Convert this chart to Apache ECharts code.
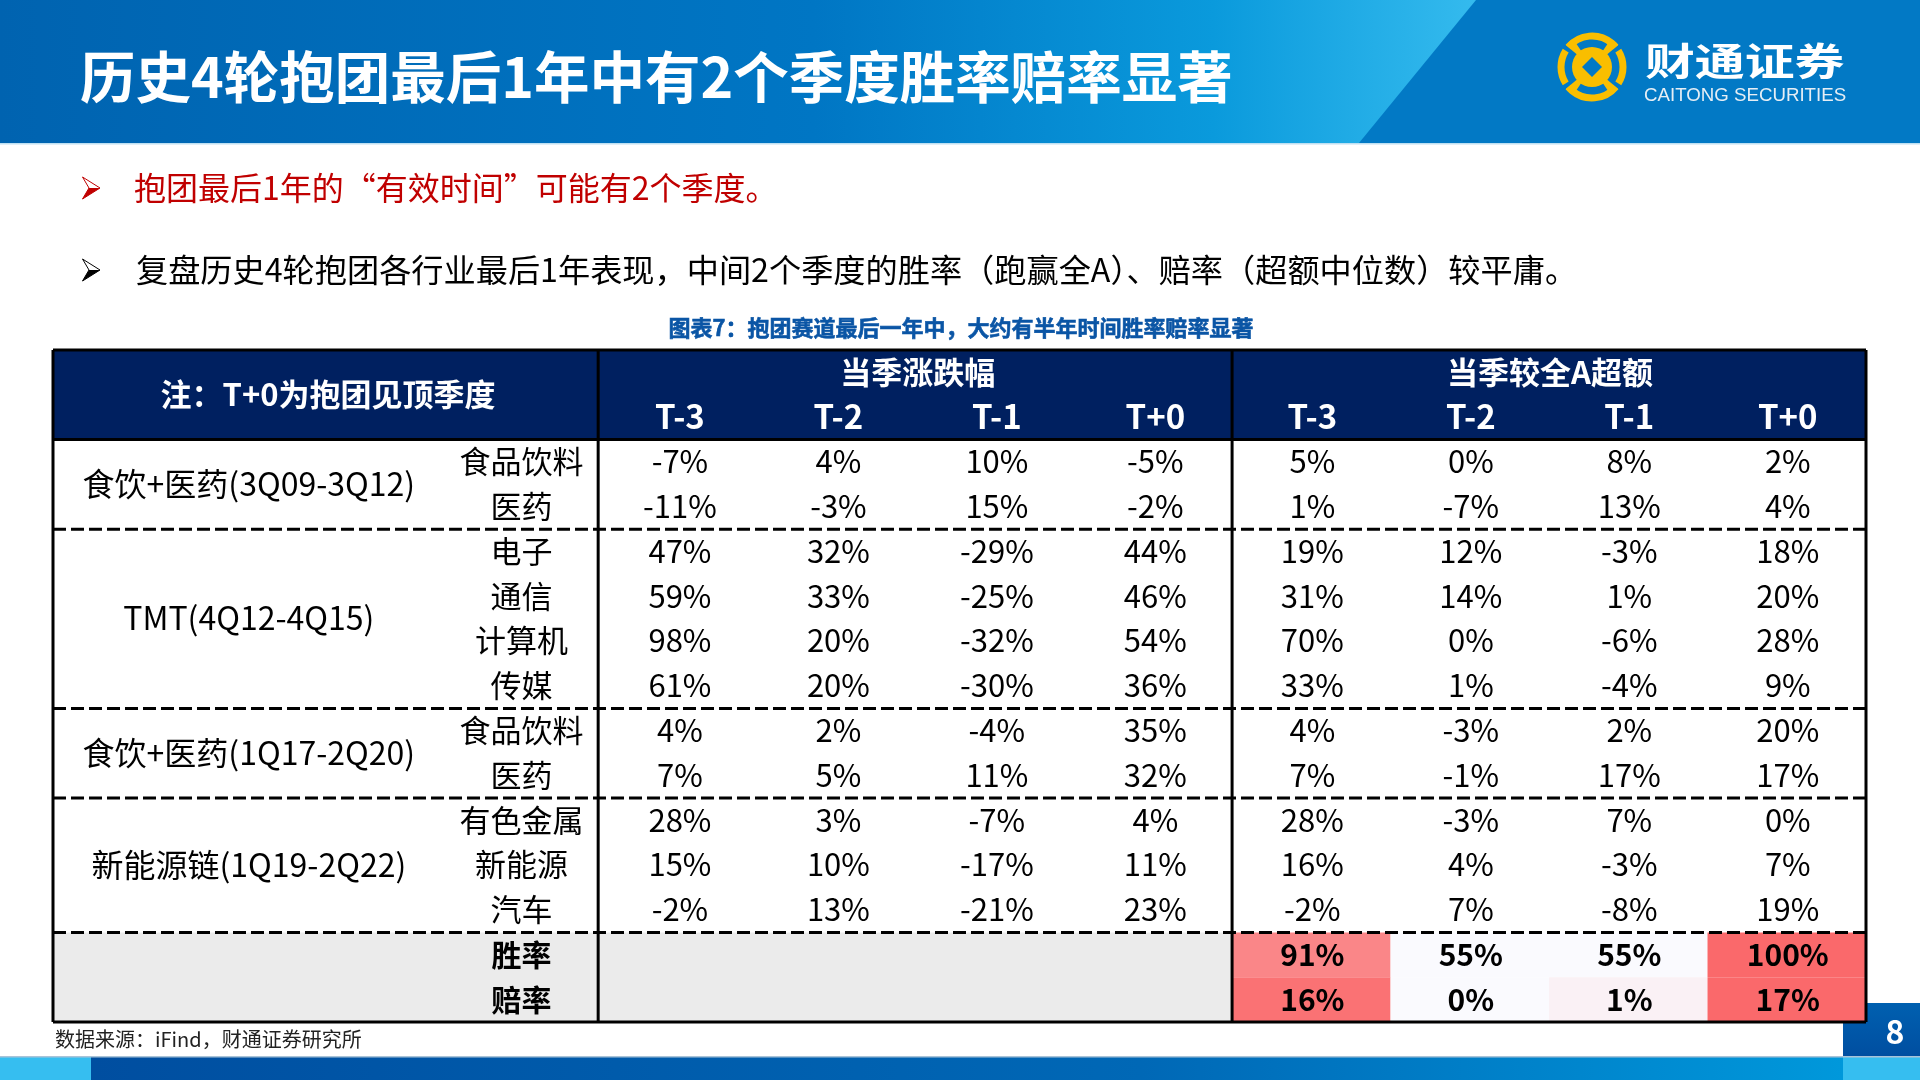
<!DOCTYPE html>
<html lang="zh-CN" style="height: 100%">
<head>
  <meta charset="utf-8">
</head>
<body style="height: 100%; margin: 0; background: #fff">
  <div id="container" style="width: 1920px; height: 1080px"></div>

  <script type="text/javascript" src="https://fastly.jsdelivr.net/npm/echarts@6/dist/echarts.min.js"></script>
  <script type="text/javascript">
    var quarters = ['T-3', 'T-2', 'T-1', 'T+0'];
    var groupTitles = ['当季涨跌幅', '当季较全A超额'];
    var groups = ['食饮+医药(3Q09-3Q12)', 'TMT(4Q12-4Q15)', '食饮+医药(1Q17-2Q20)', '新能源链(1Q19-2Q22)'];
    var groupSizes = [2, 4, 2, 3];
    var sectors = ['食品饮料', '医药', '电子', '通信', '计算机', '传媒', '食品饮料', '医药', '有色金属', '新能源', '汽车'];
    var priceChange = [
      [-7, 4, 10, -5],
      [-11, -3, 15, -2],
      [47, 32, -29, 44],
      [59, 33, -25, 46],
      [98, 20, -32, 54],
      [61, 20, -30, 36],
      [4, 2, -4, 35],
      [7, 5, 11, 32],
      [28, 3, -7, 4],
      [15, 10, -17, 11],
      [-2, 13, -21, 23]
    ];
    var excess = [
      [5, 0, 8, 2],
      [1, -7, 13, 4],
      [19, 12, -3, 18],
      [31, 14, 1, 20],
      [70, 0, -6, 28],
      [33, 1, -4, 9],
      [4, -3, 2, 20],
      [7, -1, 17, 17],
      [28, -3, 7, 0],
      [16, 4, -3, 7],
      [-2, 7, -8, 19]
    ];
    var winRate = [91, 55, 55, 100];
    var payoff = [16, 0, 1, 17];
    var noteText = '注：T+0为抱团见顶季度';
    var winLabel = '胜率';
    var payoffLabel = '赔率';

    var FONT = '"Noto Sans CJK SC", "Noto Sans", sans-serif';
    var NAVY = '#002060';
    // x axis runs in value-column units, the left part is the label panel
    var LEFT_EDGE = -3.44;
    var SECTOR_EDGE = -1;

    // same idea as the excel colour scale behind the last two rows
    function heat(v, low, high) {
      var t = Math.max(0, (v - low) / (high - low));
      var g = Math.round(250 - 145 * t);
      var b = Math.round(254 - 147 * t);
      return 'rgb(250,' + g + ',' + b + ')';
    }

    var cells = [];
    function addCell(x, y, w, h, text, fill, color, bold, size) {
      cells.push({ x: x, y: y, w: w, h: h, text: text, fill: fill, color: color || '#000', bold: bold, size: size || 31 });
    }

    // one navy block behind the whole header, so no seams between cells
    addCell(LEFT_EDGE, 0, 8 - LEFT_EDGE, 2, '', NAVY);
    addCell(LEFT_EDGE, 0, -LEFT_EDGE, 2, noteText, 'transparent', '#fff', true);
    groupTitles.forEach(function (t, i) {
      addCell(i * 4, 0, 4, 1, t, 'transparent', '#fff', true);
      quarters.forEach(function (q, j) {
        addCell(i * 4 + j, 1, 1, 1, q, 'transparent', '#fff', true, 33);
      });
    });

    var rowStart = 2;
    groups.forEach(function (g, i) {
      addCell(LEFT_EDGE, rowStart, SECTOR_EDGE - LEFT_EDGE, groupSizes[i], g, 'transparent', '#000', false, 32);
      rowStart += groupSizes[i];
    });
    sectors.forEach(function (s, r) {
      addCell(SECTOR_EDGE, r + 2, 1, 1, s, 'transparent');
      priceChange[r].forEach(function (v, c) {
        addCell(c, r + 2, 1, 1, v + '%', 'transparent');
      });
      excess[r].forEach(function (v, c) {
        addCell(c + 4, r + 2, 1, 1, v + '%', 'transparent');
      });
    });

    var lastRow = rowStart;
    addCell(LEFT_EDGE, lastRow, 4 - LEFT_EDGE, 2, '', '#EBEBEB');
    addCell(SECTOR_EDGE, lastRow, 1, 1, winLabel, 'transparent', '#000', true, 30);
    addCell(SECTOR_EDGE, lastRow + 1, 1, 1, payoffLabel, 'transparent', '#000', true, 30);
    winRate.forEach(function (v, c) {
      addCell(c + 4, lastRow, 1, 1, v + '%', heat(v, 55, 100), '#000', true, 30);
    });
    payoff.forEach(function (v, c) {
      addCell(c + 4, lastRow + 1, 1, 1, v + '%', heat(v, 0, 17), '#000', true, 30);
    });

    // table rules, in axis units
    var rules = [];
    var tableBottom = lastRow + 2;
    var yBreak = 2;
    rules.push([LEFT_EDGE, 2, 8, 2, 0]);
    groupSizes.forEach(function (n) {
      yBreak += n;
      rules.push([LEFT_EDGE, yBreak, 8, yBreak, 1]);
    });
    rules.push([0, 0, 0, tableBottom, 0]);
    rules.push([4, 0, 4, tableBottom, 0]);
    rules.push([LEFT_EDGE, 0, 8, 0, 0]);
    rules.push([LEFT_EDGE, tableBottom, 8, tableBottom, 0]);
    rules.push([LEFT_EDGE, 0, LEFT_EDGE, tableBottom, 0]);
    rules.push([8, 0, 8, tableBottom, 0]);

    function renderCell(params, api) {
      var c = cells[params.dataIndex];
      var a = api.coord([api.value(0), api.value(1)]);
      var b = api.coord([api.value(0) + c.w, api.value(1) + c.h]);
      return {
        type: 'group',
        children: [
          { type: 'rect', shape: { x: a[0], y: a[1], width: b[0] - a[0], height: b[1] - a[1] }, style: { fill: c.fill } },
          {
            type: 'text',
            x: (a[0] + b[0]) / 2 + (c.x < 4 ? 2.5 : 1),
            y: (a[1] + b[1]) / 2 - 0.5,
            style: {
              text: c.text,
              fill: c.color,
              fontFamily: FONT,
              fontSize: c.size,
              fontWeight: c.bold ? 'bold' : 'normal',
              textAlign: 'center',
              textVerticalAlign: 'middle'
            }
          }
        ]
      };
    }

    function renderRule(params, api) {
      var a = api.coord([api.value(0), api.value(1)]);
      var b = api.coord([api.value(2), api.value(3)]);
      return {
        type: 'line',
        shape: { x1: a[0], y1: a[1], x2: b[0], y2: b[1] },
        style: { stroke: '#000', lineWidth: 3, lineDash: api.value(4) ? [13, 5] : null }
      };
    }

    function label(x, y, text, size, color, weight, align) {
      return {
        type: 'text',
        x: x,
        y: y,
        z: 10,
        style: {
          text: text,
          fill: color,
          fontFamily: FONT,
          fontSize: size,
          fontWeight: weight || 'normal',
          textAlign: align || 'left',
          textVerticalAlign: 'middle'
        }
      };
    }

    function gradient(x2, y2, stops) {
      return new echarts.graphic.LinearGradient(0, 0, x2, y2, stops.map(function (s) {
        return { offset: s[0], color: s[1] };
      }));
    }

    var GOLD = '#F9BE00';
    var logoX = 1592;
    var logoY = 67;
    function logoArc(r, from, to, width) {
      return {
        type: 'arc',
        z: 9,
        shape: { cx: logoX, cy: logoY, r: r, startAngle: from * Math.PI / 180, endAngle: to * Math.PI / 180 },
        style: { stroke: GOLD, fill: null, lineWidth: width }
      };
    }

    // half hollow, half solid arrow mark of the bullet lines
    function bullet(y, color) {
      return [
        { type: 'polygon', z: 10, shape: { points: [[82.5, y - 11], [100, y], [82.5, y + 11], [89, y]] }, style: { fill: '#fff', stroke: color, lineWidth: 1 } },
        { type: 'polygon', z: 10, shape: { points: [[82.5, y + 11], [100, y], [89, y]] }, style: { fill: color } }
      ];
    }

    var decor = [
      // header band
      { type: 'rect', z: 1, shape: { x: 0, y: 0, width: 1480, height: 143 },
        style: { fill: gradient(1, 0, [[0, '#0063B0'], [0.55, '#0076C4'], [0.82, '#0A9ADC'], [1, '#35BBEE']]) } },
      { type: 'polygon', z: 2, shape: { points: [[1476, 0], [1920, 0], [1920, 143], [1359, 143]] }, style: { fill: '#0279C5' } },
      { type: 'rect', z: 3, shape: { x: 0, y: 143, width: 1920, height: 1.5 }, style: { fill: '#BFE0F2' } },
      label(80, 77, '历史4轮抱团最后1年中有2个季度胜率赔率显著', 55.5, '#fff', 'bold'),

      // logo
      logoArc(31, -140, -40, 7),
      logoArc(31, 40, 140, 7),
      logoArc(26, -140, -124, 16),
      logoArc(26, -56, -40, 16),
      logoArc(26, 40, 56, 16),
      logoArc(26, 124, 140, 16),
      logoArc(31, 148, 212, 7),
      logoArc(31, -32, 32, 7),
      { type: 'circle', z: 9, shape: { cx: logoX, cy: logoY, r: 20 }, style: { fill: GOLD } },
      { type: 'polygon', z: 10, shape: { points: [[logoX, logoY - 10], [logoX + 10, logoY], [logoX, logoY + 10], [logoX - 10, logoY]] }, style: { fill: '#0279C5' } },
      {
        type: 'text', z: 10, x: 1645, y: 61, scaleX: 1.33,
        style: { text: '财通证券', fill: '#fff', fontFamily: FONT, fontSize: 37.5, fontWeight: 'bold', textAlign: 'left', textVerticalAlign: 'middle' }
      },
      {
        type: 'text', z: 10, x: 1644, y: 95.5,
        style: { text: 'CAITONG SECURITIES', fill: '#E6EEF5', fontFamily: '"Liberation Sans", sans-serif', fontSize: 18.7, textAlign: 'left', textVerticalAlign: 'middle' }
      },

      // bullets
      label(134, 188, '抱团最后1年的“有效时间”可能有2个季度。', 32, '#C00000'),
      label(136, 270, '复盘历史4轮抱团各行业最后1年表现，中间2个季度的胜率（跑赢全A）、赔率（超额中位数）较平庸。', 32.2, '#000'),
      {
        type: 'text', z: 10, x: 961, y: 328,
        style: { text: '图表7：抱团赛道最后一年中，大约有半年时间胜率赔率显著', fill: '#0A55A5', stroke: '#0A55A5', lineWidth: 0.6, fontFamily: FONT, fontSize: 22, fontWeight: 'bold', textAlign: 'center', textVerticalAlign: 'middle' }
      },
      label(55, 1039, '数据来源：iFind，财通证券研究所', 20, '#222'),

      // footer
      { type: 'rect', z: 1, shape: { x: 0, y: 1057, width: 1920, height: 23 }, style: { fill: '#36BEF0' } },
      { type: 'rect', z: 2, shape: { x: 91, y: 1057, width: 1752, height: 23 },
        style: { fill: gradient(1, 0, [[0, '#004EA0'], [0.6, '#0068B6'], [1, '#0098DB']]) } },
      { type: 'rect', z: 3, shape: { x: 0, y: 1056, width: 1920, height: 1.5 }, style: { fill: '#A9C3D8' } },
      { type: 'rect', z: 2, shape: { x: 1843, y: 1003, width: 77, height: 54 },
        style: { fill: gradient(0, 1, [[0, '#0060B0'], [1, '#004EA0']]) } },
      label(1895, 1032, '8', 32, '#fff', 'bold', 'center')
    ].concat(bullet(188, '#C00000'), bullet(270, '#000'));

    var dom = document.getElementById('container');
    var myChart = echarts.init(dom, null, { renderer: 'canvas' });

    var option = {
      backgroundColor: '#fff',
      animation: false,
      graphic: decor,
      grid: { left: 53, right: 54, top: 350, bottom: 58 },
      xAxis: { type: 'value', min: LEFT_EDGE, max: 8, show: false },
      yAxis: { type: 'value', min: 0, max: tableBottom, inverse: true, show: false },
      series: [
        {
          type: 'custom',
          z: 2,
          clip: false,
          silent: true,
          renderItem: renderCell,
          encode: { x: 0, y: 1 },
          data: cells.map(function (c) { return [c.x, c.y]; })
        },
        {
          type: 'custom',
          z: 3,
          clip: false,
          silent: true,
          renderItem: renderRule,
          encode: { x: [0, 2], y: [1, 3] },
          data: rules
        }
      ]
    };
    myChart.setOption(option);

    window.addEventListener('resize', myChart.resize);
  </script>
</body>
</html>
